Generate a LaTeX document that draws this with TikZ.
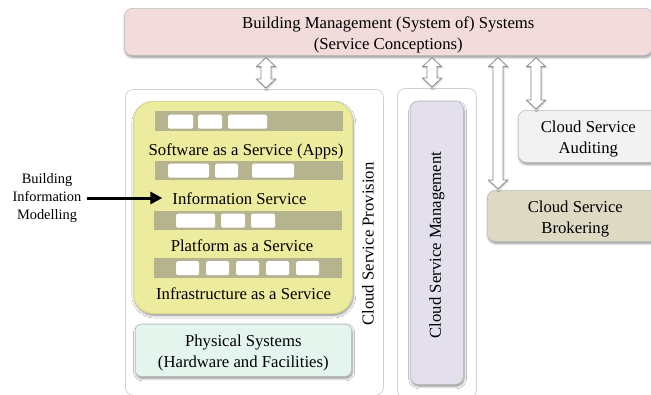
\documentclass[tikz,border=0pt]{standalone}
\usepackage{fontspec}
\setmainfont{Liberation Serif}
\usetikzlibrary{shadows.blur,calc,arrows.meta}
\definecolor{pinkfill}{HTML}{F2DCDB}
\definecolor{yellowfill}{HTML}{EDEB9D}
\definecolor{yellowdraw}{HTML}{DCDA8C}
\definecolor{barfill}{HTML}{B5B48F}
\definecolor{mintfill}{HTML}{E4F5EE}
\definecolor{lavfill}{HTML}{E4DFEC}
\definecolor{audfill}{HTML}{F2F2F2}
\definecolor{brkfill}{HTML}{DDD9C3}
\definecolor{outerdraw}{HTML}{D0D0D0}
\definecolor{arrdraw}{HTML}{8C8C8C}
\newcommand\hollowarrow[3]{%
  \coordinate (ha) at (#1,0);
  \draw[hollow] let \p1=(ha |- #2.south), \p2=(ha |- #3.north) in
    (\x1,\y1-2pt) -- (\x1+9.5pt,\y1-11pt) -- (\x1+5pt,\y1-11pt) -- (\x1+5pt,\y2+10pt)
    -- (\x1+9.5pt,\y2+10pt) -- (\x1,\y2+1pt) -- (\x1-9.5pt,\y2+10pt) -- (\x1-5pt,\y2+10pt)
    -- (\x1-5pt,\y1-11pt) -- (\x1-9.5pt,\y1-11pt) -- cycle;
}
\begin{document}
\begin{tikzpicture}[x=1pt,y=-1pt,
  font=\fontsize{16.7}{21}\selectfont,
  box/.style={rectangle, rounded corners=8pt, draw=black!25, line width=0.6pt,
    inner sep=0pt, anchor=north west},
  outerbox/.style={rectangle, rounded corners=8pt, draw=outerdraw, line width=0.8pt,
    fill=white, inner sep=0pt, anchor=north west},
  shadowed/.style={blur shadow={shadow xshift=0.8pt, shadow yshift=-2pt,
    shadow blur steps=6, shadow blur radius=2.5pt, shadow opacity=45}},
  bar/.style={rectangle, fill=barfill, inner sep=0pt, anchor=north west, minimum width=188pt, minimum height=20pt},
  cell/.style={rectangle, rounded corners=1.5pt, fill=white, inner sep=0pt, anchor=north west, minimum height=14pt},
  label/.style={inner sep=1pt},
  boxtext/.style={inner sep=1pt, align=center, yshift=-3pt},
  hollow/.style={draw=arrdraw, fill=white, line width=0.8pt, line join=miter,
    blur shadow={shadow xshift=0.6pt, shadow yshift=-1pt, shadow blur steps=4, shadow opacity=30}},
  bimarrow/.style={line width=3pt, shorten >=9pt, -{Triangle[length=12pt,width=12pt]}}
]
\useasboundingbox (0,0) rectangle (651,394);
\clip (0,0) rectangle (651,394);

% top system of systems
\node[box, shadowed, fill=pinkfill, minimum width=528pt, minimum height=47pt] (bms) at (124,8) {};
\node[boxtext] (bmstext) at (bms.center) {Building Management (System of) Systems\\(Service Conceptions)};

% cloud service provision
\node[outerbox, minimum width=258pt, minimum height=306pt] (csp) at (125,89) {};
\node[rotate=90, label] (csptext) at (368,244) {Cloud Service Provision};

\node[box, shadowed, fill=yellowfill, draw=yellowdraw, line width=1pt, rounded corners=20pt,
  minimum width=219pt, minimum height=212pt] (yel) at (133,101) {};

\node[bar] (b1) at (155,111) {};
\foreach \a/\b [count=\i] in {168/193,198/222,228/267}
  \node[cell, minimum width={\b-\a}] (c1\i) at (\a,114.5) {};
\node[label, anchor=base] (saas) at (246,155) {Software as a Service (Apps)};

\node[bar, minimum height=19pt] (b2) at (155,161) {};
\foreach \a/\b [count=\i] in {168/209,215/238,252/294}
  \node[cell, minimum width={\b-\a}] (c2\i) at (\a,163.5) {};
\node[label, anchor=base] (info) at (239.5,204) {Information Service};

\node[bar, minimum height=19pt] (b3) at (154,211) {};
\foreach \a/\b [count=\i] in {176/215,221/245,251/275}
  \node[cell, minimum width={\b-\a}] (c3\i) at (\a,213.5) {};
\node[label, anchor=base] (paas) at (242,251) {Platform as a Service};

\node[bar] (b4) at (154,258) {};
\foreach \a/\b [count=\i] in {176/199,206/229,236/259,266/289,296/319}
  \node[cell, minimum width={\b-\a}] (c4\i) at (\a,261) {};
\node[label, anchor=base] (iaas) at (243.5,299) {Infrastructure as a Service};

\node[box, shadowed, fill=mintfill, rounded corners=6pt, minimum width=216pt, minimum height=52pt] (phys) at (135,324) {};
\node[boxtext] (phystext) at (phys.center) {Physical Systems\\(Hardware and Facilities)};

% cloud service management
\node[outerbox, minimum width=79pt, minimum height=310pt] (csm) at (397,88) {};
\node[box, shadowed, fill=lavfill, minimum width=53pt, minimum height=283pt] (csmin) at (410,101) {};
\node[rotate=90, label] (csmtext) at (437,245) {Cloud Service Management};

% auditing and brokering
\node[box, shadowed, fill=audfill, minimum width=140pt, minimum height=52pt] (aud) at (518,110) {};
\node[boxtext] (audtext) at (aud.center) {Cloud Service\\Auditing};
\node[box, shadowed, fill=brkfill, minimum width=176pt, minimum height=51pt] (brk) at (487,190) {};
\node[boxtext] (brktext) at (brk.center) {Cloud Service\\Brokering};

% hollow double arrows
\hollowarrow{266}{bms}{csp}
\hollowarrow{432}{bms}{csm}
\hollowarrow{498}{bms}{brk}
\hollowarrow{536}{bms}{aud}

% building information modelling
\node[label, align=center, font=\fontsize{14.4}{18}\selectfont] (bim) at (47,198)
  {Building\\Information\\Modelling};
\coordinate (bimstart) at ([xshift=4pt]bim.east);
\draw[bimarrow] (bimstart) -- (bimstart -| info.west);
\end{tikzpicture}
\end{document}
